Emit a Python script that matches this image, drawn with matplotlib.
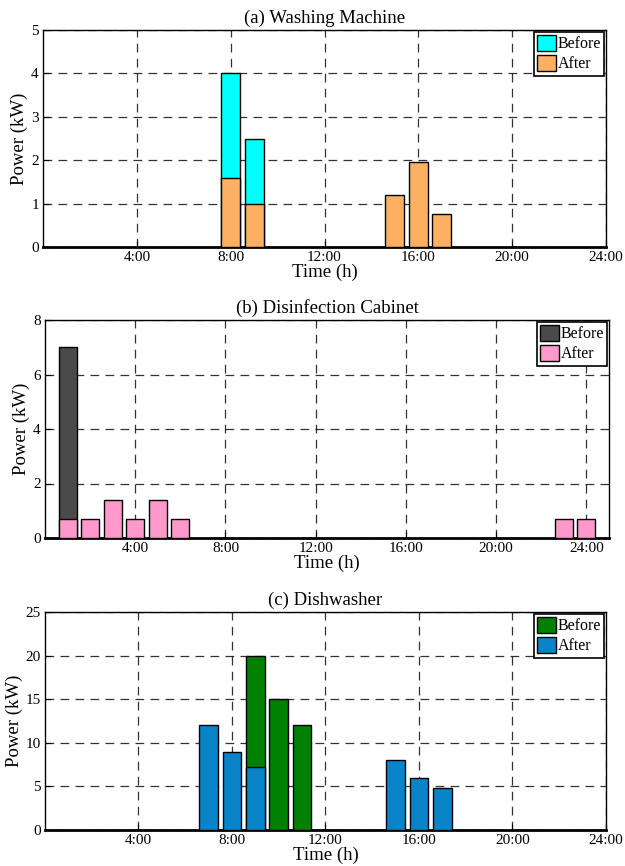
import matplotlib
matplotlib.use("Agg")
import matplotlib.pyplot as plt

plt.rcParams['font.family'] = ['Liberation Serif', 'DejaVu Serif']

# (a) washing machine
wm_before_h = [8, 9]
wm_before = [4.0, 2.5]
wm_after_h = [8, 9, 15, 16, 17]
wm_after = [1.6, 1.0, 1.2, 1.95, 0.75]

# (b) disinfection cabinet
dc_before_h = [1]
dc_before = [7.0]
dc_after_h = [1, 2, 3, 4, 5, 6, 23, 24]
dc_after = [0.7, 0.7, 1.4, 0.7, 1.4, 0.7, 0.7, 0.7]

# (c) dishwasher
dw_before_h = [9, 10, 11]
dw_before = [20, 15, 12]
dw_after_h = [7, 8, 9, 15, 16, 17]
dw_after = [12, 9, 7.2, 8, 6, 4.8]

xticks = [4, 8, 12, 16, 20, 24]
xlabels = ['4:00', '8:00', '12:00', '16:00', '20:00', '24:00']

panels = [
    dict(title='(a) Washing Machine', bh=wm_before_h, b=wm_before, ah=wm_after_h, a=wm_after,
         cb='#00FFFF', ca='#FDB062', ymax=5, yt=[0, 1, 2, 3, 4, 5], xmax=24,
         pos=[43, 30, 606, 247]),
    dict(title='(b) Disinfection Cabinet', bh=dc_before_h, b=dc_before, ah=dc_after_h, a=dc_after,
         cb='#4A4A4A', ca='#FF99CC', ymax=8, yt=[0, 2, 4, 6, 8], xmax=25,
         pos=[45, 320, 609, 538]),
    dict(title='(c) Dishwasher', bh=dw_before_h, b=dw_before, ah=dw_after_h, a=dw_after,
         cb='#008000', ca='#0A84C8', ymax=25, yt=[0, 5, 10, 15, 20, 25], xmax=24,
         pos=[45, 612, 606, 830]),
]

W, H = 625, 866
fig = plt.figure(figsize=(W / 100, H / 100), dpi=100)

for p in panels:
    l, t, r, b = p['pos']
    ax = fig.add_axes([l / W, 1 - b / H, (r - l) / W, (b - t) / H])
    ax.bar(p['bh'], p['b'], width=0.8, color=p['cb'], edgecolor='black', linewidth=1,
           label='Before', zorder=3)
    ax.bar(p['ah'], p['a'], width=0.8, color=p['ca'], edgecolor='black', linewidth=1,
           label='After', zorder=4)
    ax.set_xlim(0, p['xmax'])
    ax.set_ylim(0, p['ymax'])
    ax.set_xticks(xticks)
    ax.set_xticklabels(xlabels)
    ax.set_yticks(p['yt'])
    ax.tick_params(direction='in', labelsize=11, length=4, pad=3)
    ax.grid(True, color='black', linestyle=(0, (7, 5)), linewidth=0.9, alpha=0.8)
    ax.set_axisbelow(True)
    for s in ax.spines.values():
        s.set_linewidth(1)
    ax.spines['bottom'].set_linewidth(2)
    ax.set_title(p['title'], fontsize=13.5, pad=5)
    ax.set_xlabel('Time (h)', fontsize=13.5, labelpad=0)
    ax.set_ylabel('Power (kW)', fontsize=13.5, labelpad=2)
    leg = ax.legend(loc='upper right', fontsize=11.5, fancybox=False, framealpha=1,
                    edgecolor='black', borderpad=0.2, handlelength=1.2, handleheight=1.2,
                    handletextpad=0.1, labelspacing=0.15, borderaxespad=0.1)
    leg.get_frame().set_linewidth(1.2)

fig.savefig('out.png', dpi=100)
